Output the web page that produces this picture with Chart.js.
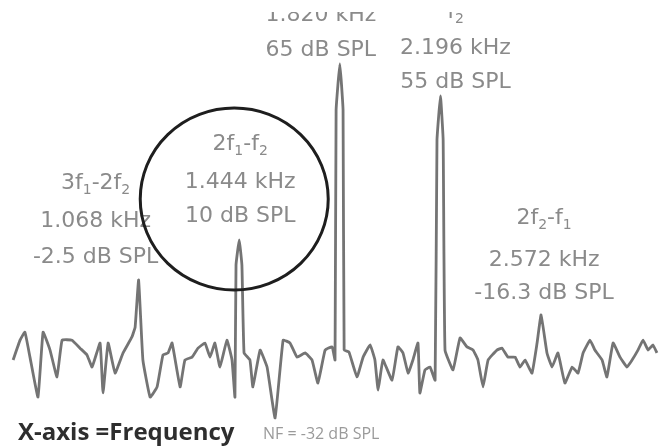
<!DOCTYPE html>
<html lang="en">
<head>
    <meta charset="UTF-8">
    <title>DPOAE spectrum</title>
    <script src="https://cdn.jsdelivr.net/npm/chart.js"></script>
    <style>
        body {
            margin: 0;
            background-color: #ffffff;
        }
        .chart-box {
            width: 669px;
            height: 448px;
            position: relative;
        }
    </style>
</head>
<body>
    <div class="chart-box">
        <canvas id="spectrum-chart"></canvas>
    </div>

    <script>
        // Spectrum trace (frequency in kHz, level in dB SPL)
        const freqKHz = [
            0.599, 0.625, 0.643, 0.662, 0.692, 0.711, 0.737, 0.763, 0.782, 0.819,
            0.849, 0.875, 0.894, 0.924, 0.935, 0.954, 0.980, 1.010, 1.043, 1.055,
            1.068, 1.084, 1.111, 1.137, 1.159, 1.178, 1.193, 1.223, 1.241, 1.268,
            1.290, 1.316, 1.335, 1.353, 1.372, 1.398, 1.417, 1.428, 1.432, 1.444,
            1.454, 1.462, 1.484, 1.495, 1.522, 1.548, 1.578, 1.608, 1.634, 1.660,
            1.690, 1.716, 1.738, 1.765, 1.791, 1.802, 1.806, 1.820, 1.832, 1.836,
            1.854, 1.884, 1.907, 1.933, 1.951, 1.963, 1.981, 2.015, 2.037, 2.056,
            2.075, 2.093, 2.112, 2.119, 2.138, 2.157, 2.176, 2.183, 2.196, 2.206,
            2.213, 2.243, 2.269, 2.295, 2.318, 2.336, 2.355, 2.374, 2.407, 2.426,
            2.448, 2.475, 2.493, 2.512, 2.538, 2.557, 2.572, 2.594, 2.613, 2.635,
            2.661, 2.688, 2.710, 2.729, 2.755, 2.773, 2.800, 2.818, 2.841, 2.867,
            2.893, 2.912, 2.934, 2.953, 2.972, 2.990, 3.005
        ];
        const levelDB = [
            -27.5, -21.3, -18.8, -26.6, -39.1, -18.8, -24.4, -32.8, -21.3, -21.3,
            -23.8, -25.9, -29.7, -22.2, -37.8, -22.2, -31.6, -25.3, -20.3, -17.2,
            -2.5, -27.5, -39.1, -35.9, -25.9, -25.3, -22.2, -35.9, -27.5, -26.6,
            -23.8, -22.2, -26.6, -22.2, -29.7, -21.3, -27.5, -39.1, 2.2, 10,
            2.2, -25.3, -27.5, -35.9, -24.4, -29.7, -45.6, -21.3, -22.2, -26.6,
            -25.3, -27.5, -34.7, -24.4, -23.4, -27.5, 50.6, 65, 50.6, -24.4,
            -25.0, -32.8, -26.6, -22.8, -27.5, -36.9, -27.5, -33.8, -23.4, -25.3,
            -31.6, -27.5, -22.2, -37.8, -30.6, -29.7, -33.8, 41.3, 55, 41.3,
            -24.4, -30.6, -20.6, -23.4, -24.4, -27.5, -35.9, -27.5, -24.4, -23.8,
            -26.6, -26.6, -29.7, -27.5, -31.6, -22.2, -13.4, -25.3, -29.7, -25.3,
            -34.7, -29.7, -31.6, -25.3, -21.3, -24.4, -27.5, -32.8, -22.2, -26.6,
            -29.7, -27.5, -24.4, -21.3, -24.4, -22.8, -25.3
        ];

        // Peak annotations ("_" marks a subscript character)
        const peakFreqs = [1.068, 1.444, 1.820, 2.196, 2.572];
        const peakNames = ['3f_1-2f_2', '2f_1-f_2', 'f_1', 'f_2', '2f_2-f_1'];
        const peakKHzLabels = ['1.068 kHz', '1.444 kHz', '1.820 kHz', '2.196 kHz', '2.572 kHz'];
        const peakSplLabels = ['-2.5 dB SPL', '10 dB SPL', '65 dB SPL', '55 dB SPL', '-16.3 dB SPL'];
        const axisNote = 'X-axis =Frequency';
        const noiseFloorNote = 'NF = -32 dB SPL';

        // Label placement: offset from the peak in px, and the three row centres
        const labelDx = [-43, 1, -19, 15, 3];
        const labelRows = [
            [183, 221, 257],
            [144, 182, 216],
            [-20, 15, 50],
            [12, 48, 82],
            [218, 260, 293]
        ];

        const points = freqKHz.map((f, i) => ({ x: f, y: levelDB[i] }));

        // Draws text with subscripts centred on (cx, cy)
        function drawSubText(ctx, text, cx, cy) {
            const parts = [];
            for (let i = 0; i < text.length; i++) {
                if (text[i] === '_') {
                    parts.push({ t: text[i + 1], sub: true });
                    i++;
                } else {
                    parts.push({ t: text[i], sub: false });
                }
            }
            const bigFont = '22px "DejaVu Sans"';
            const smallFont = '14px "DejaVu Sans"';
            let total = 0;
            parts.forEach(p => {
                ctx.font = p.sub ? smallFont : bigFont;
                p.w = ctx.measureText(p.t).width;
                total += p.w;
            });
            let x = cx - total / 2;
            ctx.textAlign = 'left';
            parts.forEach(p => {
                ctx.font = p.sub ? smallFont : bigFont;
                ctx.fillText(p.t, x, p.sub ? cy + 7 : cy);
                x += p.w;
            });
        }

        const annotationPlugin = {
            id: 'peakNotes',
            afterDraw(chart) {
                const ctx = chart.ctx;
                const xs = chart.scales.x;
                ctx.save();

                // labels above each peak (image is cropped at the top)
                ctx.save();
                ctx.beginPath();
                ctx.rect(0, 12, chart.width, chart.height);
                ctx.clip();
                ctx.fillStyle = '#8a8a8a';
                ctx.textBaseline = 'middle';
                ctx.filter = 'blur(0.6px)';
                peakFreqs.forEach((f, i) => {
                    const cx = xs.getPixelForValue(f) + labelDx[i];
                    const rows = labelRows[i];
                    drawSubText(ctx, peakNames[i], cx, rows[0]);
                    ctx.font = '22px "DejaVu Sans"';
                    ctx.textAlign = 'center';
                    ctx.fillText(peakKHzLabels[i], cx, rows[1]);
                    ctx.fillText(peakSplLabels[i], cx, rows[2]);
                });
                ctx.restore();

                // circle round the 2f1-f2 component
                const circleX = xs.getPixelForValue(peakFreqs[1]) - 5;
                ctx.beginPath();
                ctx.ellipse(circleX, 199, 94, 91, 0, 0, Math.PI * 2);
                ctx.lineWidth = 3;
                ctx.strokeStyle = '#1e1e1e';
                ctx.stroke();

                // notes under the trace
                ctx.textBaseline = 'middle';
                ctx.textAlign = 'left';
                ctx.fillStyle = '#2e2e2e';
                ctx.font = 'bold 24px "Open Sans"';
                ctx.fillText(axisNote, 18, 433);
                ctx.fillStyle = '#9a9a9a';
                ctx.font = '16px "Open Sans"';
                ctx.fillText(noiseFloorNote, 263, 434);

                ctx.restore();
            }
        };

        const ctx = document.getElementById('spectrum-chart').getContext('2d');
        const spectrumChart = new Chart(ctx, {
            type: 'line',
            data: {
                datasets: [{
                    data: points,
                    borderColor: '#747474',
                    borderWidth: 2.8,
                    pointRadius: 0,
                    tension: 0.1,
                    borderJoinStyle: 'round',
                    fill: false
                }]
            },
            options: {
                responsive: true,
                maintainAspectRatio: false,
                animation: false,
                layout: { padding: 0 },
                plugins: {
                    legend: { display: false },
                    tooltip: { enabled: false }
                },
                scales: {
                    x: { type: 'linear', min: 0.55, max: 3.05, display: false },
                    y: { min: -55, max: 85, display: false }
                }
            },
            plugins: [annotationPlugin]
        });
    </script>
</body>
</html>
